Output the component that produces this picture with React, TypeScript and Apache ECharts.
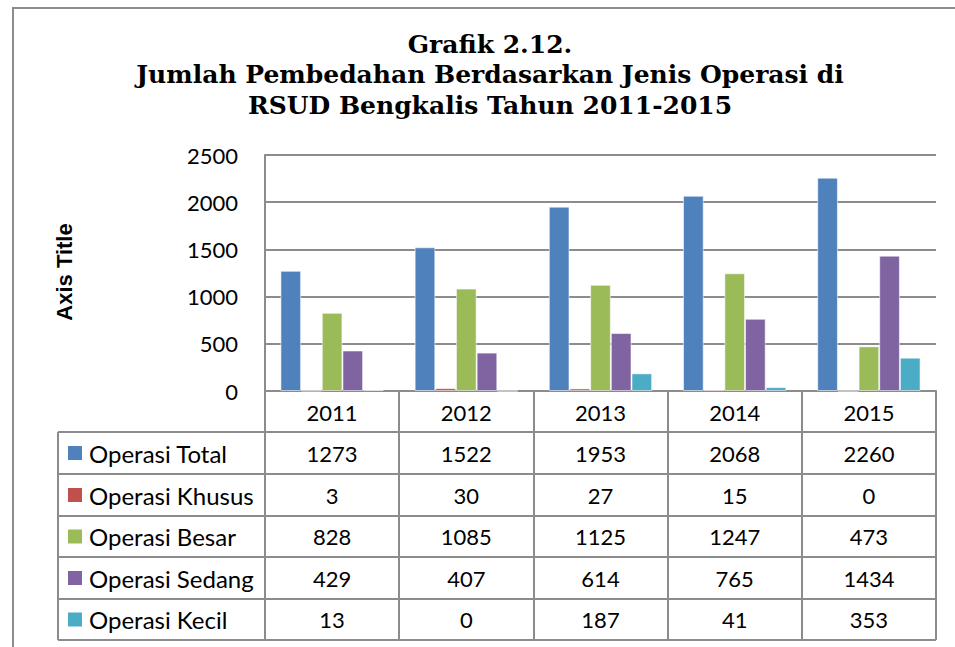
import React, { useEffect, useRef } from "react";
import * as echarts from "echarts";

const years = ["2011", "2012", "2013", "2014", "2015"];
const seriesNames = ["Operasi Total", "Operasi Khusus", "Operasi Besar", "Operasi Sedang", "Operasi Kecil"];
const operasiTotal = [1273, 1522, 1953, 2068, 2260];
const operasiKhusus = [3, 30, 27, 15, 0];
const operasiBesar = [828, 1085, 1125, 1247, 473];
const operasiSedang = [429, 407, 614, 765, 1434];
const operasiKecil = [13, 0, 187, 41, 353];
const yTicks = [0, 500, 1000, 1500, 2000, 2500];
const titleLines = ["Grafik 2.12.", "Jumlah Pembedahan Berdasarkan Jenis Operasi di", "RSUD Bengkalis Tahun 2011-2015"];
const colors = ["#4F81BD", "#C0504D", "#9BBB59", "#8064A2", "#4BACC6"];

export default function App() {
  const ref = useRef<HTMLDivElement>(null);
  useEffect(() => {
    if (!ref.current) return;
    const chart = echarts.init(ref.current, null, { renderer: "svg" });
    const allSeries = [operasiTotal, operasiKhusus, operasiBesar, operasiSedang, operasiKecil];

    const gridLeft = 265;
    const gridRight = 936;
    const gridTop = 155;
    const gridBottom = 391;
    const tableLeft = 58;
    const rowTops = [432, 474, 516, 557, 599, 640];
    const lineColor = "#8c8c8c";
    const font = "Lato, 'Noto Sans', sans-serif";
    const catW = (gridRight - gridLeft) / years.length;

    const graphics: any[] = [];
    // outer frame
    graphics.push({
      type: "polyline",
      shape: { points: [[13, 647], [13, 8], [955, 8]] },
      style: { stroke: "#8c8c8c", lineWidth: 2, fill: null },
    });
    // axis title
    graphics.push({
      type: "text",
      x: 64,
      y: 272,
      rotation: Math.PI / 2,
      style: {
        text: "Axis Title",
        font: "bold 22px 'Liberation Sans', Arial, sans-serif",
        fill: "#000",
        align: "center",
        verticalAlign: "middle",
      },
    });
    // table horizontal lines
    rowTops.forEach((y) => {
      graphics.push({
        type: "line",
        shape: { x1: tableLeft, y1: y, x2: gridRight, y2: y },
        style: { stroke: lineColor, lineWidth: 2 },
      });
    });
    graphics.push({
      type: "line",
      shape: { x1: tableLeft, y1: rowTops[0], x2: tableLeft, y2: rowTops[rowTops.length - 1] },
      style: { stroke: lineColor, lineWidth: 2 },
    });
    // table rows
    seriesNames.forEach((name, i) => {
      const cy = (rowTops[i] + rowTops[i + 1]) / 2;
      graphics.push({
        type: "rect",
        shape: { x: 68, y: cy - 7, width: 14, height: 14 },
        style: { fill: colors[i] },
      });
      graphics.push({
        type: "text",
        x: 89,
        y: cy,
        style: { text: name, font: "24px " + font, fill: "#000", align: "left", verticalAlign: "middle" },
      });
      allSeries[i].forEach((v, j) => {
        graphics.push({
          type: "text",
          x: gridLeft + catW * (j + 0.5),
          y: cy,
          style: { text: String(v), font: "22px " + font, fill: "#000", align: "center", verticalAlign: "middle" },
        });
      });
    });

    chart.setOption({
      animation: false,
      color: colors,
      title: {
        text: titleLines.join("\n"),
        left: 485,
        top: 24,
        textAlign: "center",
        textStyle: {
          fontFamily: "'DejaVu Serif', serif",
          fontWeight: "bold",
          fontSize: 25,
          lineHeight: 30.5,
          color: "#000",
        },
      },
      grid: { left: gridLeft, right: 955 - gridRight, top: gridTop, bottom: 647 - gridBottom },
      xAxis: {
        type: "category",
        data: years,
        axisLine: { show: true, lineStyle: { color: lineColor, width: 2 } },
        axisTick: { show: true, alignWithLabel: false, length: 249, lineStyle: { color: lineColor, width: 2 } },
        axisLabel: { fontFamily: font, fontSize: 22, color: "#000", margin: 10, lineHeight: 22 },
      },
      yAxis: {
        type: "value",
        min: 0,
        max: 2500,
        interval: 500,
        axisLine: { show: true, lineStyle: { color: lineColor, width: 2 } },
        axisTick: { show: false },
        splitLine: { lineStyle: { color: lineColor, width: 2 } },
        axisLabel: {
          fontFamily: font,
          fontSize: 22,
          color: "#000",
          margin: 27,
          formatter: (v: number) => (yTicks.includes(v) ? String(v) : ""),
        },
      },
      series: seriesNames.map((name, i) => ({
        name,
        type: "bar",
        data: allSeries[i],
        barGap: "0%",
        barCategoryGap: "23%",
        itemStyle: { color: colors[i], borderColor: "rgba(255,255,255,0.55)", borderWidth: 1 },
      })),
      graphic: graphics,
    });
    return () => chart.dispose();
  }, []);
  return (
    <div
      ref={ref}
      style={{ position: "fixed", left: 0, top: 0, width: 955, height: 647, background: "#fff" }}
    />
  );
}
